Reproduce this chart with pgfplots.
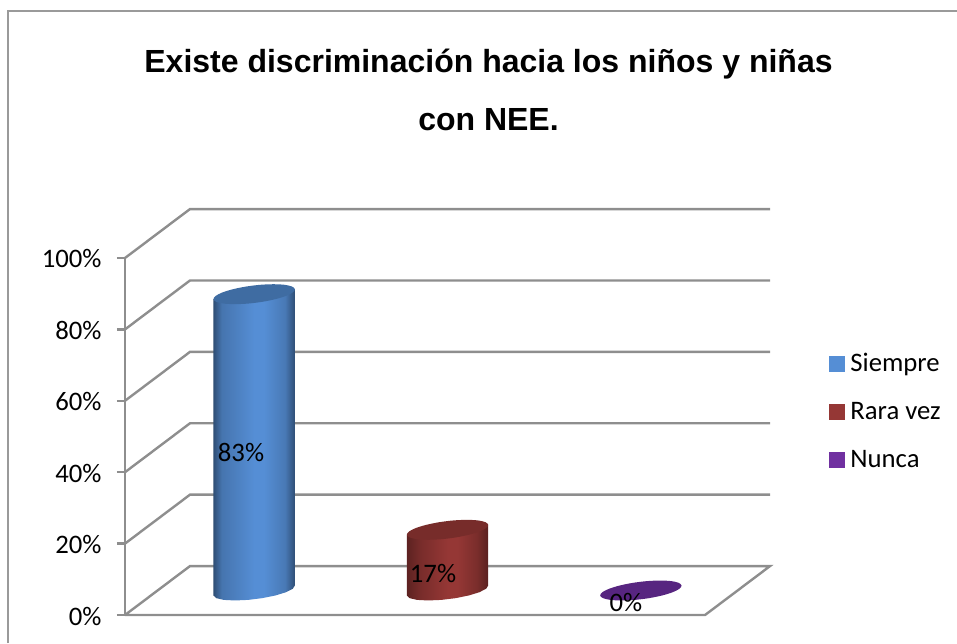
\documentclass[border=0pt]{standalone}
\usepackage{pgfplots}
\pgfplotsset{compat=1.18}
\usepackage{fontspec}
\setmainfont{Carlito}
\newfontfamily\titlefont{Liberation Sans}

\definecolor{gridgray}{HTML}{8E8E8E}
\definecolor{framegray}{HTML}{9A9A9A}
\definecolor{keyblue}{HTML}{558ED5}
\definecolor{keyred}{HTML}{953735}
\definecolor{keypurple}{HTML}{7030A0}
\definecolor{capblue}{HTML}{3F6CA2}
\definecolor{capred}{HTML}{772C2A}
\definecolor{cappurple}{HTML}{572580}

% Horizontal shadings that give the round look of the columns
\pgfdeclarehorizontalshading{cylblue}{100bp}{
  color(0bp)=(keyblue!55!black);
  color(25bp)=(keyblue!55!black);
  color(30bp)=(keyblue!82!black);
  color(50bp)=(keyblue);
  color(56bp)=(keyblue);
  color(69bp)=(keyblue!85!black);
  color(75bp)=(keyblue!55!black);
  color(100bp)=(keyblue!55!black)}
\pgfdeclarehorizontalshading{cylred}{100bp}{
  color(0bp)=(keyred!62!black);
  color(25bp)=(keyred!62!black);
  color(33bp)=(keyred!80!black);
  color(50bp)=(keyred);
  color(56bp)=(keyred);
  color(68bp)=(keyred!82!black);
  color(75bp)=(keyred!60!black);
  color(100bp)=(keyred!60!black)}

\begin{document}
\begin{tikzpicture}
\useasboundingbox (-125pt,-28pt) rectangle (832pt,615pt);
% chart area outline
\draw[framegray,line width=1.6pt] (-117pt,-28pt) -- (-117pt,604pt) -- (832pt,604pt);
% title
\node[font=\titlefont\bfseries\fontsize{32}{32}\selectfont,anchor=center] at (363.5pt,551pt)
  {Existe discriminación hacia los niños y niñas};
\node[font=\titlefont\bfseries\fontsize{32}{32}\selectfont,anchor=center] at (363.5pt,495pt)
  {con NEE.};

\begin{axis}[
  scale only axis,
  width=645pt, height=357pt,
  xmin=-0.5, xmax=2.836,
  ymin=0, ymax=100,
  clip=false,
  axis x line=none,
  axis y line*=left,
  axis line style={gridgray,line width=2.4pt,-},
  ytick={0,20,40,60,80,100},
  yticklabels={0\%,20\%,40\%,60\%,80\%,100\%},
  tick style={gridgray,line width=2.4pt},
  tick align=outside,
  major tick length=8pt,
  yticklabel style={font=\fontsize{26.7}{26.7}\selectfont,xshift=-12pt,yshift=-1pt},
  legend style={at={(1.0915,0.738)},anchor=north west,draw=none,fill=none,
    font=\fontsize{26.7}{26.7}\selectfont,row sep=25.3pt,column sep=4pt,
    inner sep=0pt,outer sep=0pt},
  legend cell align=left,
]
% legend keys
\addlegendimage{legend image code/.code={\fill[keyblue] (0pt,-7.5pt) rectangle (15pt,7.5pt);}}
\addlegendentry{Siempre}
\addlegendimage{legend image code/.code={\fill[keyred] (0pt,-7.5pt) rectangle (15pt,7.5pt);}}
\addlegendentry{Rara vez}
\addlegendimage{legend image code/.code={\fill[keypurple] (0pt,-7.5pt) rectangle (15pt,7.5pt);}}
\addlegendentry{Nunca}

% floor and gridlines on the side and back walls
\addplot[gridgray,line width=2.4pt,forget plot] coordinates {(-0.5,0) (2.5,0) (2.836,13.7) (-0.164,13.7) (-0.5,0)};
\addplot[gridgray,line width=2.4pt,forget plot] coordinates {(-0.5,20) (-0.164,33.7) (2.836,33.7)};
\addplot[gridgray,line width=2.4pt,forget plot] coordinates {(-0.5,40) (-0.164,53.7) (2.836,53.7)};
\addplot[gridgray,line width=2.4pt,forget plot] coordinates {(-0.5,60) (-0.164,73.7) (2.836,73.7)};
\addplot[gridgray,line width=2.4pt,forget plot] coordinates {(-0.5,80) (-0.164,93.7) (2.836,93.7)};
\addplot[gridgray,line width=2.4pt,forget plot] coordinates {(-0.5,100) (-0.164,113.7) (2.836,113.7)};

% Siempre: 83
\addplot[draw=none,shade,shading=cylblue,xshift=32.5pt,yshift=24.5pt,forget plot]
  coordinates {(-0.2105,81.6) (0.2105,84.4) (0.2105,1.40) (0.1996,0.49) (0.1647,-0.48) (0.11,-1.39)
    (0.0419,-2.14) (-0.0312,-2.63) (-0.1005,-2.79) (-0.1577,-2.63) (-0.1959,-2.14) (-0.2105,-1.40)};
\addplot[draw=none,fill=capblue,smooth cycle,xshift=32.5pt,yshift=24.5pt,forget plot]
  coordinates {(-0.2105,81.60) (-0.1959,80.86) (-0.1577,80.37) (-0.1005,80.21) (-0.0312,80.37) (0.0419,80.86)
    (0.11,81.61) (0.1647,82.52) (0.1996,83.49) (0.2105,84.40) (0.1959,85.14) (0.1577,85.63)
    (0.1005,85.79) (0.0312,85.63) (-0.0419,85.14) (-0.11,84.39) (-0.1647,83.48) (-0.1996,82.51)};

% Rara vez: 17
\addplot[draw=none,shade,shading=cylred,xshift=32.5pt,yshift=24.5pt,forget plot]
  coordinates {(0.7895,15.6) (1.2105,18.4) (1.2105,1.40) (1.1996,0.49) (1.1647,-0.48) (1.11,-1.39)
    (1.0419,-2.14) (0.9688,-2.63) (0.8995,-2.79) (0.8423,-2.63) (0.8041,-2.14) (0.7895,-1.40)};
\addplot[draw=none,fill=capred,smooth cycle,xshift=32.5pt,yshift=24.5pt,forget plot]
  coordinates {(0.7895,15.60) (0.8041,14.86) (0.8423,14.37) (0.8995,14.21) (0.9688,14.37) (1.0419,14.86)
    (1.11,15.61) (1.1647,16.52) (1.1996,17.49) (1.2105,18.40) (1.1959,19.14) (1.1577,19.63)
    (1.1005,19.79) (1.0312,19.63) (0.9581,19.14) (0.89,18.39) (0.8353,17.48) (0.8004,16.51)};

% Nunca: 0
\addplot[draw=none,fill=cappurple,smooth cycle,xshift=32.5pt,yshift=24.5pt,forget plot]
  coordinates {(1.7895,-1.40) (1.8041,-2.14) (1.8423,-2.63) (1.8995,-2.79) (1.9688,-2.63) (2.0419,-2.14)
    (2.11,-1.39) (2.1647,-0.48) (2.1996,0.49) (2.2105,1.40) (2.1959,2.14) (2.1577,2.63)
    (2.1005,2.79) (2.0312,2.63) (1.9581,2.14) (1.89,1.39) (1.8353,0.48) (1.8004,-0.49)};

% value labels
\node[font=\fontsize{26.7}{26.7}\selectfont] at (axis cs:0.1,45.4) {83\%};
\node[font=\fontsize{26.7}{26.7}\selectfont] at (axis cs:1.093,11.7) {17\%};
\node[font=\fontsize{26.7}{26.7}\selectfont] at (axis cs:2.091,3.6) {0\%};
\end{axis}
\end{tikzpicture}
\end{document}
